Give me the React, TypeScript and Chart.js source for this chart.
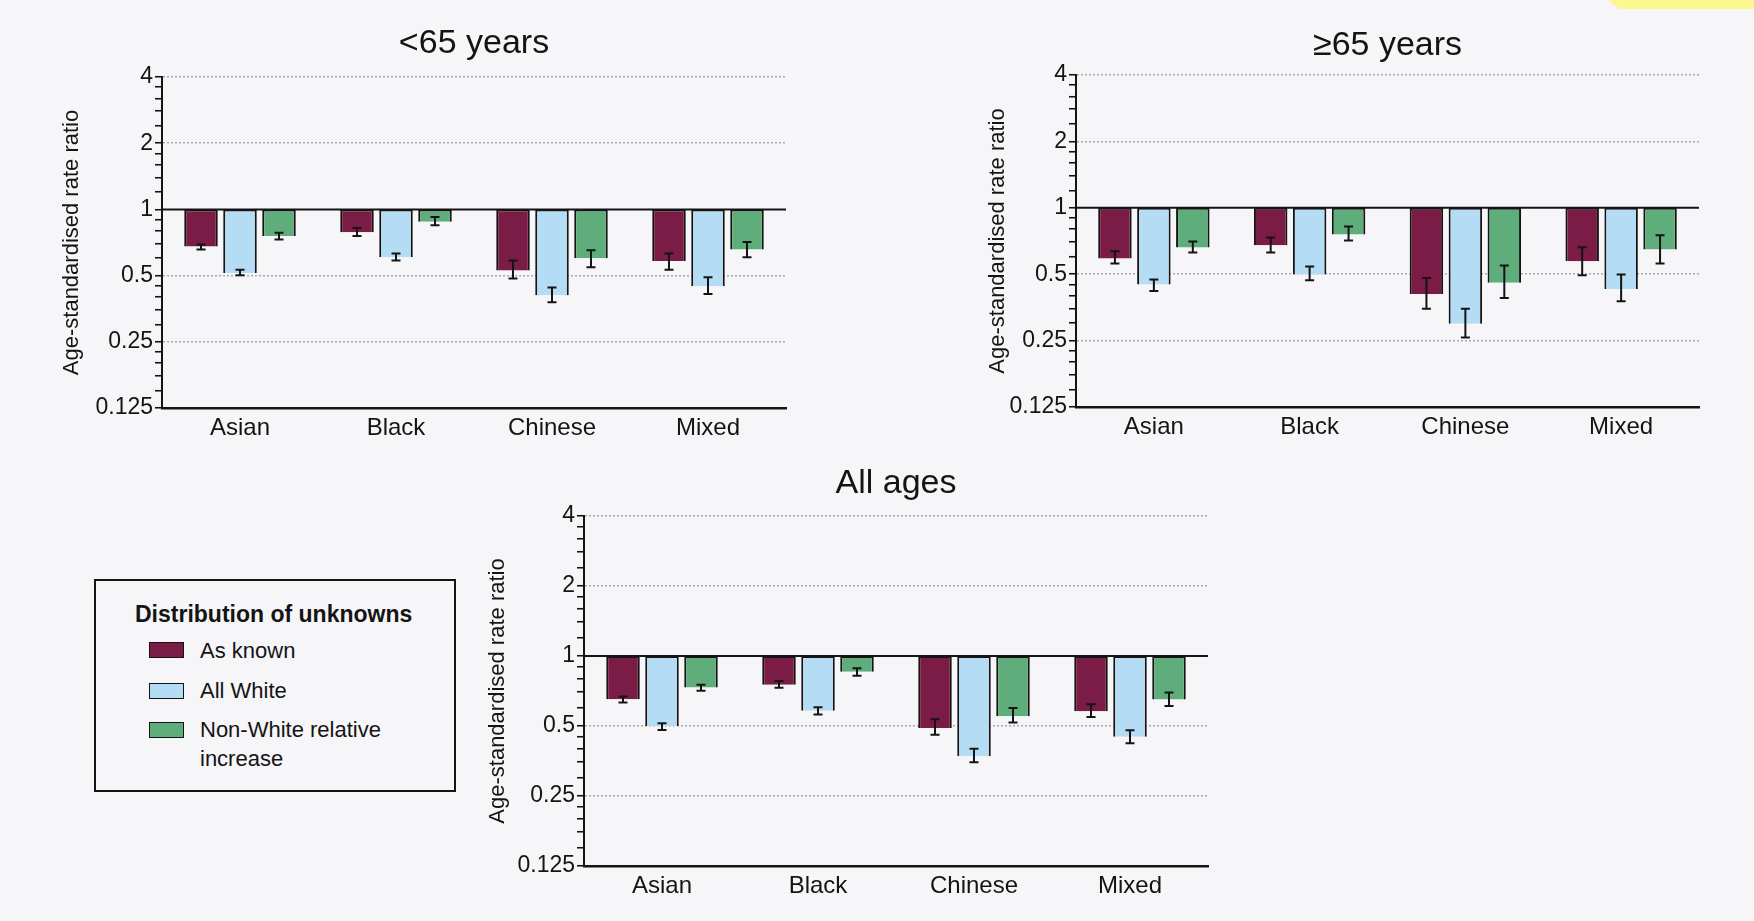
import React, { useEffect, useRef } from "react";
import { Chart, registerables } from "chart.js";

Chart.register(...registerables);

// ---------- data ----------
const categories = ["Asian", "Black", "Chinese", "Mixed"];
const seriesNames = ["As known", "All White", "Non-White relative increase"];
const seriesColors = ["#7a1c45", "#b5dcf5", "#60ad7c"];
const majorTickValues = [0.125, 0.25, 0.5, 1, 2, 4];

// <65 years
const under65AsKnown = [0.678, 0.788, 0.527, 0.583];
const under65AsKnownLow = [0.657, 0.756, 0.485, 0.532];
const under65AsKnownHigh = [0.693, 0.822, 0.585, 0.63];
const under65AllWhite = [0.514, 0.606, 0.407, 0.447];
const under65AllWhiteLow = [0.502, 0.585, 0.378, 0.412];
const under65AllWhiteHigh = [0.532, 0.63, 0.441, 0.491];
const under65NonWhite = [0.756, 0.878, 0.6, 0.657];
const under65NonWhiteLow = [0.73, 0.848, 0.545, 0.606];
const under65NonWhiteHigh = [0.783, 0.923, 0.652, 0.71];

// >=65 years
const over65AsKnown = [0.589, 0.677, 0.407, 0.573];
const over65AsKnownLow = [0.559, 0.627, 0.349, 0.495];
const over65AsKnownHigh = [0.636, 0.734, 0.481, 0.663];
const over65AllWhite = [0.449, 0.498, 0.298, 0.428];
const over65AllWhiteLow = [0.42, 0.47, 0.258, 0.377];
const over65AllWhiteHigh = [0.473, 0.542, 0.349, 0.498];
const over65NonWhite = [0.661, 0.757, 0.457, 0.647];
const over65NonWhiteLow = [0.627, 0.711, 0.39, 0.559];
const over65NonWhiteHigh = [0.703, 0.823, 0.547, 0.751];

// All ages
const allAsKnown = [0.652, 0.752, 0.49, 0.579];
const allAsKnownLow = [0.631, 0.73, 0.459, 0.547];
const allAsKnownHigh = [0.67, 0.78, 0.534, 0.62];
const allAllWhite = [0.5, 0.582, 0.371, 0.45];
const allAllWhiteLow = [0.481, 0.56, 0.349, 0.421];
const allAllWhiteHigh = [0.514, 0.602, 0.399, 0.479];
const allNonWhite = [0.732, 0.856, 0.55, 0.65];
const allNonWhiteLow = [0.708, 0.822, 0.517, 0.61];
const allNonWhiteHigh = [0.752, 0.885, 0.598, 0.696];

// ---------- styling ----------
const FONT = "'Liberation Sans', Arial, Helvetica, sans-serif";
const INK = "#141414";

// minor ticks: linear steps between each pair of majors
const allTickValues: number[] = [];
for (let i = 0; i < majorTickValues.length; i++) {
  const a = majorTickValues[i];
  allTickValues.push(a);
  if (i < majorTickValues.length - 1) {
    for (const f of [1.2, 1.4, 1.6, 1.8]) allTickValues.push(a * f);
  }
}
const isMajor = (v: number) => majorTickValues.some((m) => Math.abs(m - v) < 1e-9);

const errorBarPlugin = {
  id: "errorBarsAndUnity",
  afterDatasetsDraw(chart: any) {
    const { ctx, chartArea } = chart;
    const y = chart.scales.y;
    ctx.save();
    // reference line at 1
    const y1 = y.getPixelForValue(1);
    ctx.strokeStyle = INK;
    ctx.lineWidth = 2;
    ctx.beginPath();
    ctx.moveTo(chartArea.left, y1);
    ctx.lineTo(chartArea.right, y1);
    ctx.stroke();
    // error bars
    chart.data.datasets.forEach((ds: any, di: number) => {
      const meta = chart.getDatasetMeta(di);
      meta.data.forEach((bar: any, i: number) => {
        const lo = y.getPixelForValue(ds.errLow[i]);
        const hi = y.getPixelForValue(ds.errHigh[i]);
        ctx.lineWidth = 2;
        ctx.beginPath();
        ctx.moveTo(bar.x, lo);
        ctx.lineTo(bar.x, hi);
        ctx.moveTo(bar.x - 4.5, lo);
        ctx.lineTo(bar.x + 4.5, lo);
        ctx.moveTo(bar.x - 4.5, hi);
        ctx.lineTo(bar.x + 4.5, hi);
        ctx.stroke();
      });
    });
    ctx.restore();
  },
};

type PanelSpec = {
  title: string;
  L: number;
  T: number;
  R: number;
  B: number;
  titleCY: number;
  yTitleCX: number;
  series: { values: number[]; low: number[]; high: number[] }[];
};

const panels: PanelSpec[] = [
  {
    title: "<65 years",
    L: 162, T: 77, R: 786, B: 408, titleCY: 44, yTitleCX: 72,
    series: [
      { values: under65AsKnown, low: under65AsKnownLow, high: under65AsKnownHigh },
      { values: under65AllWhite, low: under65AllWhiteLow, high: under65AllWhiteHigh },
      { values: under65NonWhite, low: under65NonWhiteLow, high: under65NonWhiteHigh },
    ],
  },
  {
    title: "\u226565 years",
    L: 1076, T: 75, R: 1699, B: 407, titleCY: 46, yTitleCX: 998,
    series: [
      { values: over65AsKnown, low: over65AsKnownLow, high: over65AsKnownHigh },
      { values: over65AllWhite, low: over65AllWhiteLow, high: over65AllWhiteHigh },
      { values: over65NonWhite, low: over65NonWhiteLow, high: over65NonWhiteHigh },
    ],
  },
  {
    title: "All ages",
    L: 584, T: 516, R: 1208, B: 866, titleCY: 484, yTitleCX: 498,
    series: [
      { values: allAsKnown, low: allAsKnownLow, high: allAsKnownHigh },
      { values: allAllWhite, low: allAllWhiteLow, high: allAllWhiteHigh },
      { values: allNonWhite, low: allNonWhiteLow, high: allNonWhiteHigh },
    ],
  },
];

function Panel({ spec }: { spec: PanelSpec }) {
  const ref = useRef<HTMLCanvasElement>(null);
  const cl = spec.yTitleCX - 30;
  const ct = spec.titleCY - 40;
  const cw = spec.R + 20 - cl;
  const xAxisH = 45;
  const ch = spec.B + xAxisH - ct;
  const titleSize = 34;
  const titleLH = titleSize * 1.2;
  const titlePadTop = 40 - titleLH / 2;
  const titlePadBottom = spec.T - ct - titlePadTop - titleLH;
  const yAxisW = spec.L - cl;

  useEffect(() => {
    if (!ref.current) return;
    const chart = new Chart(ref.current, {
      type: "bar",
      data: {
        labels: categories,
        datasets: spec.series.map((s, k) => ({
          label: seriesNames[k],
          data: s.values.map((v) => [1, v]),
          errLow: s.low,
          errHigh: s.high,
          backgroundColor: seriesColors[k],
          borderColor: INK,
          borderWidth: 2,
          borderSkipped: "start",
          categoryPercentage: 0.75,
          barPercentage: 0.86,
        })) as any,
      },
      options: {
        responsive: false,
        devicePixelRatio: 1,
        animation: false,
        layout: { padding: { left: 0, right: 20, top: 0, bottom: 0 } },
        plugins: {
          legend: { display: false },
          tooltip: { enabled: false },
          title: {
            display: true,
            text: spec.title,
            fullSize: false,
            color: INK,
            font: { family: FONT, size: titleSize, weight: "normal" as any, lineHeight: 1.2 },
            padding: { top: titlePadTop, bottom: titlePadBottom },
          },
        },
        scales: {
          x: {
            type: "category",
            grid: { display: false, drawTicks: false },
            border: { display: true, color: INK, width: 2.5 },
            ticks: { color: INK, font: { family: FONT, size: 24 }, padding: 6 },
            afterFit: (s: any) => {
              s.height = xAxisH;
            },
          },
          y: {
            type: "logarithmic",
            min: 0.125,
            max: 4,
            bounds: "data",
            afterBuildTicks: (s: any) => {
              s.ticks = allTickValues.map((v) => ({ value: v, major: isMajor(v) }));
            },
            afterFit: (s: any) => {
              s.width = yAxisW;
            },
            ticks: {
              autoSkip: false,
              color: INK,
              font: { family: FONT, size: 23 },
              padding: 2,
              callback: (v: any) => (isMajor(Number(v)) ? String(v) : ""),
            },
            grid: {
              display: true,
              drawTicks: true,
              tickLength: 7,
              tickWidth: 1.6,
              tickColor: INK,
              lineWidth: 1.5,
              color: (ctx: any) => {
                const v = ctx.tick ? ctx.tick.value : 0;
                if (!isMajor(v)) return "rgba(0,0,0,0)";
                if (Math.abs(v - 1) < 1e-9 || Math.abs(v - 0.125) < 1e-9) return "rgba(0,0,0,0)";
                return "rgba(120,120,120,0.6)";
              },
            },
            border: { display: true, color: INK, width: 2, dash: [2, 2] },
            title: {
              display: true,
              text: "Age-standardised rate ratio",
              color: INK,
              font: { family: FONT, size: 22, lineHeight: 1.2 },
              padding: { top: 30 - 13.2, bottom: 0 },
            },
          },
        },
      },
      plugins: [errorBarPlugin],
    } as any);
    return () => chart.destroy();
  }, []);

  return (
    <canvas
      ref={ref}
      width={cw}
      height={ch}
      style={{ position: "absolute", left: cl, top: ct, width: cw, height: ch }}
    />
  );
}

function Legend() {
  const swatchTops = [642, 683, 722];
  const textCY = [650, 690, 729];
  return (
    <div
      style={{
        position: "absolute",
        left: 94,
        top: 579,
        width: 358,
        height: 209,
        border: `2px solid ${INK}`,
        fontFamily: FONT,
        color: INK,
      }}
    >
      <div
        style={{
          position: "absolute",
          left: 39,
          top: 18,
          fontSize: 23,
          fontWeight: "bold",
          lineHeight: "30px",
          whiteSpace: "nowrap",
        }}
      >
        Distribution of unknowns
      </div>
      {seriesNames.map((name, k) => (
        <React.Fragment key={name}>
          <div
            style={{
              position: "absolute",
              left: 53,
              top: swatchTops[k] - 579 - 2,
              width: 33,
              height: 14,
              background: seriesColors[k],
              border: `1.5px solid ${INK}`,
            }}
          />
          <div
            style={{
              position: "absolute",
              left: 104,
              top: textCY[k] - 579 - 2 - 14,
              fontSize: 22,
              lineHeight: "29px",
              width: 240,
            }}
          >
            {k === 2 ? (
              <>
                Non-White relative
                <br />
                increase
              </>
            ) : (
              name
            )}
          </div>
        </React.Fragment>
      ))}
    </div>
  );
}

export default function App() {
  return (
    <div
      style={{
        position: "absolute",
        left: 0,
        top: 0,
        width: 1754,
        height: 921,
        background: "#f6f5f8",
        overflow: "hidden",
      }}
    >
      <div
        style={{
          position: "absolute",
          left: 1608,
          top: 0,
          width: 146,
          height: 9,
          background: "#fdf78f",
          clipPath: "polygon(0 0, 100% 0, 100% 100%, 8% 100%)",
        }}
      />
      {panels.map((p) => (
        <Panel key={p.title} spec={p} />
      ))}
      <Legend />
    </div>
  );
}
